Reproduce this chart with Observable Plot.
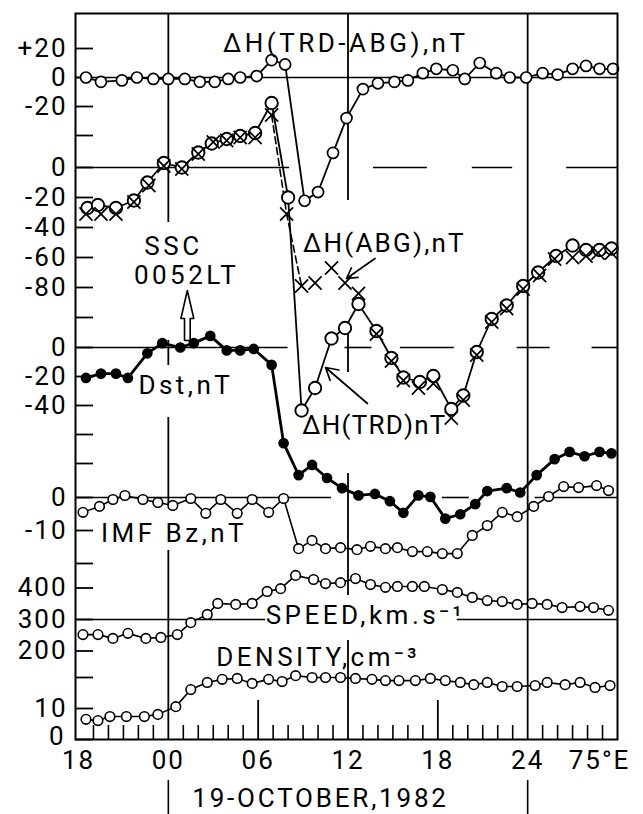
<!DOCTYPE html>
<html><head><meta charset="utf-8">
<script src="https://cdn.jsdelivr.net/npm/d3@7"></script>
<script src="https://cdn.jsdelivr.net/npm/@observablehq/plot@0.6"></script>
<style>body{margin:0;background:#fff} svg{display:block}</style>
</head><body><div id="chart"></div>
<script>
// Hours relative to 00 LT (75°E), 19 October 1982 (negative = 18 Oct)
const traHours = [-5.5,-4.5,-3.1,-2.1,-1.0,0,1.1,2.1,3.1,4.0,4.8,5.9,6.9,7.8,9.1,10.0,11.0,11.9,13.0,14.0,15.1,16.0,17.0,17.9,19.0,19.8,20.8,21.9,22.8,23.9,25.0,26.0,27.0,27.9,28.8,29.7];
const traValues = [0,-3,-2,0,-1,-1,-1,-3,-3,-1,0,1,12,9,-85,-79,-52,-28,-8,-4,-3,-2,3,6,5,-1,10,3,0,0,3,2,6,8,6,6];

const trdHours = [-5.4,-4.7,-3.5,-2.3,-1.4,-0.3,0.9,2.0,2.9,3.9,4.8,5.8,6.9,8.0,8.9,9.8,10.9,11.8,12.7,13.9,14.9,15.7,16.8,17.7,18.9,19.7,20.6,21.6,22.6,23.7,24.7,25.9,27.0,27.9,28.8,29.6];
const trdValues = [-27,-25,-27,-22,-10,3,0,10,16,19,21,23,43,-20,-162,-147,-114,-107,-91,-109,-127,-140,-143,-139,-161,-152,-123,-101,-92,-79,-70,-59,-52,-55,-55,-54];

const abgHours = [-5.5,-4.5,-3.5,-2.3,-1.3,-0.3,0.9,2.0,3.0,3.9,4.8,5.8,6.9,7.9,8.9,9.8,10.9,11.8,12.7,13.9,14.9,15.7,16.7,17.7,18.9,19.7,20.6,21.6,22.6,23.7,24.8,25.8,27.0,27.9,28.7,29.6];
const abgValues = [-31,-31,-31,-23,-12,1,-1,9,17,18,20,20,35,-31,-79,-77,-67,-77,-84,-111,-129,-142,-147,-144,-167,-155,-125,-103,-94,-81,-72,-61,-60,-59,-57,-57];

const dstHours = [-5.5,-4.5,-3.5,-2.7,-1.4,-0.4,0.8,1.7,2.8,3.9,4.8,5.7,6.9,7.7,8.7,9.6,10.6,11.6,12.7,13.8,14.8,15.7,16.7,17.5,18.5,19.5,20.5,21.3,22.6,23.5,24.6,25.8,26.8,27.8,28.8,29.6];
const dstValues = [-21,-18,-18,-21,-4,3,0,3,8,-2,-2,-1,-12,-66,-88,-81,-90,-97,-102,-101,-106,-114,-102,-103,-118,-115,-108,-99,-97,-100,-88,-77,-72,-75,-72,-73];

const imfHours = [-5.7,-4.6,-3.7,-2.9,-1.7,-0.7,0.3,1.5,2.5,3.5,4.6,5.6,6.7,7.7,8.7,9.6,10.5,11.5,12.6,13.5,14.5,15.3,16.3,17.3,18.3,19.3,20.3,21.3,22.3,23.3,24.4,25.4,26.4,27.4,28.6,29.4];
const imfValues = [-4.5,-2.7,-0.6,0.6,-0.6,-1.5,-2.4,-0.3,-4.8,-0.6,-4.8,-0.6,-4.5,-0.3,-15.5,-13,-15.5,-15.2,-15.8,-14.8,-15.5,-15.2,-16.4,-16.4,-17,-17,-11.5,-8.5,-4.5,-5.8,-2.7,0.3,3.3,3,3.6,2.1];

const spdHours = [-5.7,-4.7,-3.7,-2.7,-1.5,-0.5,0.6,1.5,2.6,3.3,4.5,5.6,6.6,7.5,8.5,9.7,10.5,11.5,12.5,13.5,14.5,15.3,16.3,17.1,18.3,19.3,20.3,21.3,22.3,23.3,24.3,25.3,26.3,27.5,28.4,29.4];
const spdValues = [252,252,240,256,240,243,252,290,316,351,348,351,389,398,440,427,414,417,430,411,402,405,405,405,395,386,370,360,357,348,351,348,338,341,338,329];

const denHours = [-5.5,-4.7,-3.9,-2.8,-1.6,-0.7,0.5,1.5,2.6,3.6,4.6,5.6,6.7,7.6,8.5,9.6,10.5,11.5,12.5,13.6,14.5,15.4,16.5,17.5,18.5,19.5,20.4,21.3,22.3,23.3,24.5,25.3,26.5,27.5,28.5,29.5];
const denValues = [6.5,6.1,7.4,7.4,7.4,8.1,10.6,16.1,18.4,19.4,19.7,18.1,19.4,18.7,20.6,20,20,20,19.7,19.4,19,19,19,19.7,19,18.4,17.7,18.4,17.1,17.1,17.4,18.4,17.7,18.4,16.8,17.4];

const xTickHours = [-6,0,6,12,18,24];
const xTickLabels = ["18","00","06","12","18","24"];

// left-axis tick values per panel (empty label = unlabeled tick)
const traTicks = [20,0,-20,-40];   const traTickLabels = ["+20","0","-20",""];
const dhTicks = [0,-20,-40,-60,-80,-100]; const dhTickLabels = ["0","-20","-40","-60","-80",""];
const dstTicks = [0,-20,-40,-60,-80]; const dstTickLabels = ["0","-20","-40","",""];
const imfTicks = [0,-10,-20]; const imfTickLabels = ["0","-10",""];
const spdTicks = [400,300,200]; const spdTickLabels = ["400","300","200"];
const denTicks = [20,10,0]; const denTickLabels = ["","10","0"];

// ---- layout: each panel = offset + gain on one shared vertical scale ----
const P = {
  tra: {base: 662, k: 1.45},
  dh:  {base: 572, k: 1.5},
  dst: {base: 392, k: 1.45},
  imf: {base: 242, k: 3.3},
  spd: {base: 25.5, k: 0.315},
  den: {base: 0, k: 3.1}
};
const U = (p, v) => P[p].base + P[p].k * v;
const rows = (p, hs, vs) => hs.map((h, i) => ({h, v: vs[i], u: U(p, vs[i])}));

const tra = rows("tra", traHours, traValues);
const trd = rows("dh", trdHours, trdValues);
const abg = rows("dh", abgHours, abgValues);
const dst = rows("dst", dstHours, dstValues);
const imf = rows("imf", imfHours, imfValues);
const spd = rows("spd", spdHours, spdValues);
const den = rows("den", denHours, denValues);

const yTicks = [].concat(
  traTicks.map((v,i)=>({u:U("tra",v), t:traTickLabels[i]})),
  dhTicks.map((v,i)=>({u:U("dh",v), t:dhTickLabels[i]})),
  dstTicks.map((v,i)=>({u:U("dst",v), t:dstTickLabels[i]})),
  imfTicks.map((v,i)=>({u:U("imf",v), t:imfTickLabels[i]})),
  spdTicks.map((v,i)=>({u:U("spd",v), t:spdTickLabels[i]})),
  denTicks.map((v,i)=>({u:U("den",v), t:denTickLabels[i]}))
);

const X0 = -6.2, X1 = 30;
const hLines = [
  {u:U("tra",0), a:X0, b:X1},
  {u:U("dh",0), a:X0, b:8.1}, {u:U("dh",0), a:13.7, b:17.3}, {u:U("dh",0), a:20.3, b:23}, {u:U("dh",0), a:26.6, b:X1},
  {u:U("dst",0), a:X0, b:8.0}, {u:U("dst",0), a:11.8, b:13.6}, {u:U("dst",0), a:15.5, b:19.1}, {u:U("dst",0), a:23.3, b:25.5}, {u:U("dst",0), a:28.3, b:X1},
  {u:U("imf",0), a:X0, b:10.9}, {u:U("imf",0), a:18.3, b:20.1}, {u:U("imf",0), a:24.5, b:X1},
  {u:U("spd",300), a:X0, b:6.5}, {u:U("spd",300), a:19.3, b:X1}
];
const vLines = [
  {h:0, a:726, b:517}, {h:0, a:399, b:374}, {h:0, a:322, b:234}, {h:0, a:189, b:0},
  {h:12, a:726, b:539}, {h:12, a:416, b:367}, {h:12, a:266, b:144}, {h:12, a:99, b:0},
  {h:24, a:726, b:0}
];
const hourTicks = d3.range(-5, 30).filter(h => h % 6 !== 0);

// hollow SSC arrow outline
const sx = 1.27, hw = 0.43, sw = 0.19;
const sscArrow = [
  [sx-sw,399],[sx-sw,421],[sx-hw,421],[sx,449],[sx+hw,421],[sx+sw,421],[sx+sw,399],[sx-sw,399]
].map(([h,u])=>({h,u}));

const font = "Roboto, 'Liberation Sans', 'DejaVu Sans', sans-serif";
const FS = 26;
const ann = {fontSize: FS, textAnchor: "start"};
const yLab = yTicks.filter(d => d.t);

const chart = Plot.plot({
  width: 643, height: 814,
  marginLeft: 75, marginRight: 26, marginTop: 13, marginBottom: 75,
  x: {domain: [X0, X1], axis: null},
  y: {domain: [0, 726], axis: null},
  style: {fontFamily: font, background: "#fff", color: "#000"},
  marks: [
    Plot.ruleY(hLines, {y: "u", x1: "a", x2: "b", stroke: "#000", strokeWidth: 1.6}),
    Plot.ruleX(vLines, {x: "h", y1: "a", y2: "b", stroke: "#000", strokeWidth: 1.8}),
    Plot.axisY({ticks: yTicks.map(d=>d.u), tickSize: -18, tickFormat: () => "", strokeWidth: 1.8}),
    Plot.text(yLab.filter(d => d.u > 0), {y: "u", text: "t", frameAnchor: "left", dx: -8, textAnchor: "end", fontSize: FS}),
    Plot.text(yLab.filter(d => d.u === 0), {y: "u", text: "t", frameAnchor: "left", dx: -10, dy: -3, textAnchor: "end", fontSize: FS}),
    Plot.axisX({ticks: hourTicks, tickSize: -14, tickFormat: () => "", strokeWidth: 1.6}),
    Plot.axisX({ticks: [6,18], tickSize: -39, tickFormat: () => "", strokeWidth: 1.8}),
    Plot.text(xTickHours, {x: d=>d, text: (d,i)=>xTickLabels[i], frameAnchor: "bottom", dy: 29, fontSize: FS}),
    Plot.text(["75°E"], {x: 28.8, frameAnchor: "bottom", dy: 29, fontSize: FS}),
    Plot.ruleX([0,24], {y1: -41, y2: -75, stroke: "#000", strokeWidth: 1.6}),
    Plot.text(["19-OCTOBER,1982"], {x: 1.6, y: -59, ...ann}),

    // series lines
    Plot.line(tra, {x: "h", y: "u", stroke: "#000", strokeWidth: 1.8}),
    Plot.line(trd, {x: "h", y: "u", stroke: "#000", strokeWidth: 1.8}),
    Plot.line(abg.filter(d => d.h >= 6.8 && d.h <= 9), {x: "h", y: "u", stroke: "#000", strokeWidth: 1.6, strokeDasharray: "7,4"}),
    Plot.line(dst, {x: "h", y: "u", stroke: "#000", strokeWidth: 2.8}),
    Plot.line(imf, {x: "h", y: "u", stroke: "#000", strokeWidth: 1.6}),
    Plot.line(spd, {x: "h", y: "u", stroke: "#000", strokeWidth: 1.6}),
    Plot.line(den, {x: "h", y: "u", stroke: "#000", strokeWidth: 1.6}),

    // markers
    Plot.dot(tra, {x: "h", y: "u", r: 5.5, fill: "#fff", stroke: "#000", strokeWidth: 1.7}),
    Plot.dot(trd, {x: "h", y: "u", r: 6.2, fill: "#fff", stroke: "#000", strokeWidth: 1.9}),
    Plot.dot(abg, {x: "h", y: "u", r: 6, symbol: "times", stroke: "#000", strokeWidth: 1.7}),
    Plot.dot(dst, {x: "h", y: "u", r: 4.6, fill: "#000", stroke: "#000"}),
    Plot.dot(imf, {x: "h", y: "u", r: 4.8, fill: "#fff", stroke: "#000", strokeWidth: 1.6}),
    Plot.dot(spd, {x: "h", y: "u", r: 4.8, fill: "#fff", stroke: "#000", strokeWidth: 1.6}),
    Plot.dot(den, {x: "h", y: "u", r: 4.8, fill: "#fff", stroke: "#000", strokeWidth: 1.6}),

    // annotations
    Plot.text(["ΔH(TRD-ABG),nT"], {x: 3.65, y: 696, ...ann}),
    Plot.text(["SSC"], {x: -1.6, y: 493, ...ann}),
    Plot.text(["0052LT"], {x: -2.3, y: 464, ...ann}),
    Plot.line(sscArrow, {x: "h", y: "u", stroke: "#000", strokeWidth: 1.6, fill: "#fff"}),
    Plot.text(["ΔH(ABG),nT"], {x: 9.0, y: 496, ...ann}),
    Plot.arrow([0], {x1: 13.8, y1: 481, x2: 11.9, y2: 461, stroke: "#000", strokeWidth: 1.7, headLength: 12}),
    Plot.text(["ΔH(TRD)nT"], {x: 8.95, y: 314, ...ann}),
    Plot.arrow([0], {x1: 13.3, y1: 336, x2: 10.5, y2: 372, stroke: "#000", strokeWidth: 1.7, headLength: 12}),
    Plot.text(["Dst,nT"], {x: -2.0, y: 354, ...ann}),
    Plot.text(["IMF Bz,nT"], {x: -4.5, y: 206, ...ann}),
    Plot.text(["SPEED,km.s⁻¹"], {x: 6.5, y: 124, ...ann}),
    Plot.text(["DENSITY,cm⁻³"], {x: 3.2, y: 82, ...ann}),

    Plot.frame({stroke: "#000", strokeWidth: 2})
  ]
});
// letter spacing: numbers / tick labels tighter, word labels wider (as in the hand-lettered original)
const spacing = {"ΔH(TRD)nT": "1.2px", "ΔH(ABG),nT": "2.2px", "19-OCTOBER,1982": "2.8px"};
d3.select(chart).selectAll("text").each(function() {
  const t = this.textContent;
  const isTick = /^[+\-]?\d+$/.test(t) || t === "75°E";
  this.style.letterSpacing = spacing[t] || (isTick ? "2px" : "3.5px");
});
document.getElementById("chart").append(chart);
</script>
</body></html>
